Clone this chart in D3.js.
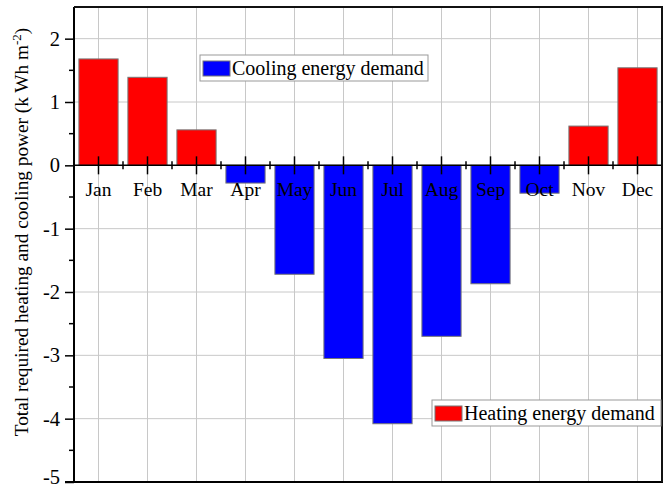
<!DOCTYPE html>
<html><head><meta charset="utf-8">
<script src="https://cdn.jsdelivr.net/npm/d3@7/dist/d3.min.js"></script>
<style>body{margin:0;background:#fff}svg{display:block}text{font-family:"Liberation Serif","Times New Roman",serif}</style>
</head><body><svg id="c" width="672" height="490"></svg>
<script>
const months = ["Jan","Feb","Mar","Apr","May","Jun","Jul","Aug","Sep","Oct","Nov","Dec"];
const demand = [1.68, 1.39, 0.56, -0.28, -1.72, -3.05, -4.08, -2.70, -1.87, -0.44, 0.62, 1.54];
const yTicks = [2, 1, 0, -1, -2, -3, -4, -5];
const legendLabels = ["Cooling energy demand", "Heating energy demand"];

const svg = d3.select("#c");
const L = 74, R = 662, T = 7, B = 482;
const x = d3.scaleBand().domain(months).range([L, R]).paddingInner(0.2).paddingOuter(0.1);
const xc = m => x(m) + x.bandwidth()/2;
const y = d3.scaleLinear().domain([-5, 2.5]).range([B, T]);

// grid
const g = svg.append("g");
g.selectAll(".vg").data(months).join("line")
  .attr("x1", xc).attr("x2", xc).attr("y1", T).attr("y2", B)
  .attr("stroke", "#c8c8c8").attr("stroke-width", 1);
g.selectAll(".hg").data(yTicks.filter(v => v !== 0 && v !== -5)).join("line")
  .attr("x1", L).attr("x2", R).attr("y1", d => y(d)).attr("y2", d => y(d))
  .attr("stroke", "#c8c8c8").attr("stroke-width", 1);

// bars
svg.append("g").selectAll("rect").data(months).join("rect")
  .attr("x", m => x(m)).attr("width", x.bandwidth())
  .attr("y", (m, i) => y(Math.max(0, demand[i])))
  .attr("height", (m, i) => Math.abs(y(demand[i]) - y(0)))
  .attr("fill", (m, i) => demand[i] >= 0 ? "#ff0000" : "#0000ff")
  .attr("stroke", "#777").attr("stroke-width", 1);

// zero axis
const xa = svg.append("g").attr("transform", `translate(0,${y(0)})`)
  .call(d3.axisBottom(x).tickSize(0).tickPadding(17));
xa.select(".domain").remove();
xa.selectAll("text").attr("font-size", 19.5).attr("fill", "#000")
  .attr("font-family", "Liberation Serif, serif");
svg.append("line").attr("x1", L).attr("x2", R).attr("y1", y(0)).attr("y2", y(0))
  .attr("stroke", "#000").attr("stroke-width", 1.5);
svg.selectAll(".xt").data(months).join("line")
  .attr("x1", xc).attr("x2", xc).attr("y1", y(0) - 9).attr("y2", y(0) + 9)
  .attr("stroke", "#000").attr("stroke-width", 1.5);
const bounds = months.slice(1).map(m => x(m) - x.step()*x.paddingInner()/2);
svg.selectAll(".xm").data(bounds).join("line")
  .attr("x1", d => d).attr("x2", d => d).attr("y1", y(0) - 4).attr("y2", y(0) + 4)
  .attr("stroke", "#000").attr("stroke-width", 1.5);

// y axis
const ya = svg.append("g").attr("transform", `translate(${L},0)`)
  .call(d3.axisLeft(y).tickValues(yTicks).tickSize(9).tickPadding(5).tickFormat(d => String(d)));
ya.select(".domain").remove();
ya.selectAll("line").attr("stroke", "#000").attr("stroke-width", 1.5);
ya.selectAll("text").attr("font-size", 20.5).attr("fill", "#000")
  .attr("font-family", "Liberation Serif, serif")
  .attr("dy", d => d === -5 ? "0.05em" : "0.32em");
const minor = d3.range(-4.5, 2.5, 1);
svg.selectAll(".ym").data(minor).join("line")
  .attr("x1", L - 5).attr("x2", L).attr("y1", d => y(d)).attr("y2", d => y(d))
  .attr("stroke", "#000").attr("stroke-width", 1.5);

// frame
svg.append("line").attr("x1", L).attr("x2", L).attr("y1", T).attr("y2", B).attr("stroke", "#000").attr("stroke-width", 2);
svg.append("line").attr("x1", L - 9).attr("x2", R + 1).attr("y1", B).attr("y2", B).attr("stroke", "#000").attr("stroke-width", 2);
svg.append("line").attr("x1", L).attr("x2", R + 1).attr("y1", T).attr("y2", T).attr("stroke", "#111").attr("stroke-width", 2);
svg.append("line").attr("x1", R).attr("x2", R).attr("y1", T).attr("y2", B).attr("stroke", "#111").attr("stroke-width", 2);

// y label
const yl = svg.append("text").attr("transform", `translate(28,232) rotate(-90)`)
  .attr("text-anchor", "middle").attr("font-size", 19.3).attr("fill", "#000")
  .attr("font-family", "Liberation Serif, serif");
yl.append("tspan").text("Total required heating and cooling power (k Wh m");
yl.append("tspan").attr("dy", -7).attr("font-size", 13).text("-2");
yl.append("tspan").attr("dy", 7).text(")");

// legends
function legend(x0, y0, w, color, label) {
  const lg = svg.append("g").attr("transform", `translate(${x0},${y0})`);
  lg.append("rect").attr("width", w).attr("height", 26).attr("fill", "#fff").attr("stroke", "#999").attr("stroke-width", 1);
  lg.append("rect").attr("x", 3).attr("y", 6).attr("width", 27).attr("height", 15).attr("fill", color).attr("stroke", "#777");
  lg.append("text").attr("x", 32).attr("y", 20).attr("font-size", 20).attr("fill", "#000")
    .attr("font-family", "Liberation Serif, serif").text(label);
}
legend(200, 55, 228, "#0000ff", legendLabels[0]);
legend(432, 400, 229, "#ff0000", legendLabels[1]);
</script></body></html>
